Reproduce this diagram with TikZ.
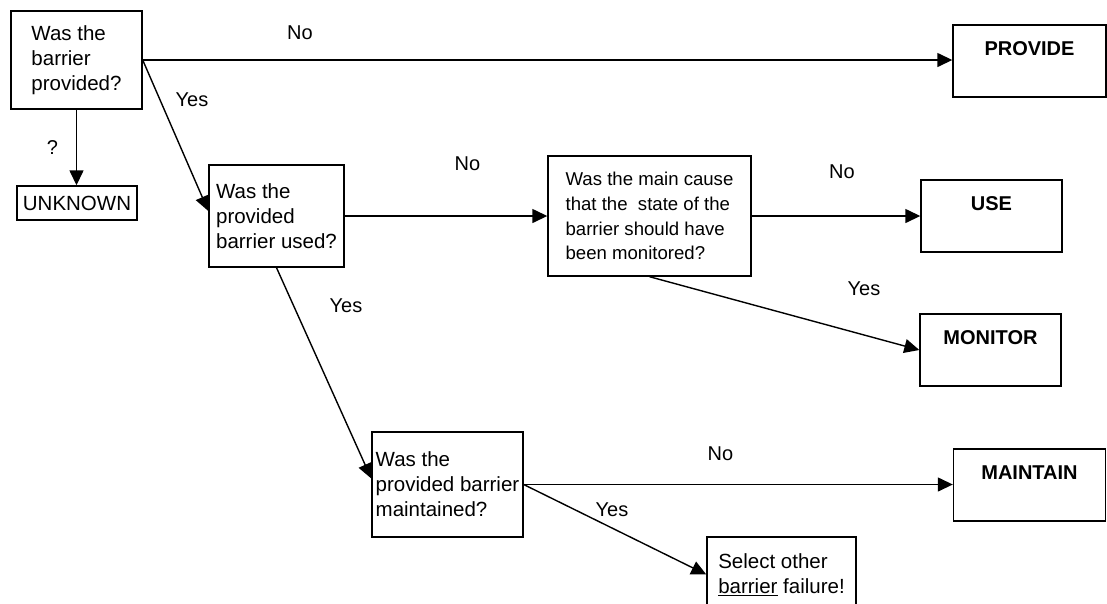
\documentclass[tikz,border=0pt]{standalone}
\usepackage{fontspec}
\setmainfont{Liberation Sans}
\usetikzlibrary{arrows.meta}
\tikzset{
  question/.style={draw, line width=1.4pt, align=left, inner sep=0pt, font=\fontsize{20.5}{25}\selectfont},
  action/.style={draw, line width=1.4pt, align=center, inner sep=0pt, font=\fontsize{20}{25}\selectfont\bfseries},
  answer/.style={inner sep=0pt, font=\fontsize{20}{25}\selectfont},
  flow/.style={line width=1.4pt, -{Triangle[length=15pt,width=14pt]}}
}
\begin{document}
\begin{tikzpicture}[x=1pt,y=-1pt]
\useasboundingbox (0,0) rectangle (1107,603);
\node[question, minimum width=131pt, minimum height=98pt] (provided) at (76.5,60) {Was the\\barrier\\provided?};
\node[question, minimum width=120pt, minimum height=34pt] (unknown) at (77,203) {UNKNOWN};
\node[question, minimum width=135pt, minimum height=102pt] (used) at (276.5,216) {Was the\\provided\\barrier used?};
\node[question, minimum width=203pt, minimum height=120pt, font=\fontsize{18.6}{24.7}\selectfont] (cause) at (649.5,216) {Was the main cause\\that the\ \ state of the\\barrier should have\\been monitored?};
\node[question, minimum width=151pt, minimum height=105pt] (maintained) at (447.5,484.5) {Was the\\provided barrier\\maintained?};
\node[question, minimum width=149pt, minimum height=75pt] (other) at (781.5,574.5) {Select other\\\underline{barrier} failure!};
\node[action, minimum width=153pt, minimum height=72pt] (provide) at (1029.5,61) {PROVIDE\\\mbox{}};
\node[action, minimum width=141pt, minimum height=72pt] (use) at (991.5,216) {USE\\\mbox{}};
\node[action, minimum width=141pt, minimum height=72pt] (monitor) at (990.5,350) {MONITOR\\\mbox{}};
\node[action, minimum width=152pt, minimum height=72pt] (maintain) at (1029.5,485) {MAINTAIN\\\mbox{}};

\draw[flow] (provided.east) -- (provided.east -| provide.west);
\draw[flow] (provided.south) -- (provided.south |- unknown.north);
\draw[flow] (provided.east) -- ([yshift=5pt]used.west);
\draw[flow] (used.east) -- (cause.west);
\draw[flow] (cause.east) -- (use.west);
\draw[flow] (cause.south) -- (monitor.west);
\draw[flow] (used.south) -- ([yshift=6pt]maintained.west);
\draw[flow] (maintained.east) -- (maintained.east -| maintain.west);
\draw[flow] (maintained.east) -- (other.west);

\node[answer] (noprovide) at (300,33) {No};
\node[answer] (yesprovided) at (192,100) {Yes};
\node[answer] (unsure) at (52.5,147.5) {?};
\node[answer] (noused) at (467.5,163.5) {No};
\node[answer] (nocause) at (842,171.5) {No};
\node[answer] (yescause) at (864,288.5) {Yes};
\node[answer] (yesused) at (346,305.5) {Yes};
\node[answer] (nomaintained) at (720.5,454) {No};
\node[answer] (yesmaintained) at (612,510) {Yes};
\end{tikzpicture}
\end{document}
